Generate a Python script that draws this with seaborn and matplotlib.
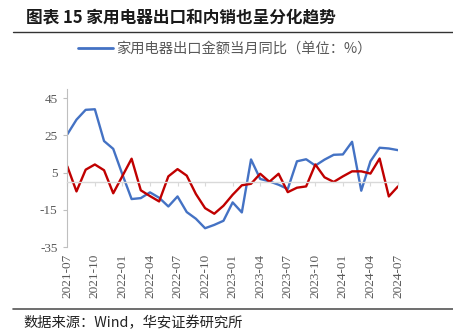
import matplotlib
matplotlib.use("Agg")
import matplotlib.pyplot as plt
from matplotlib.lines import Line2D
import matplotlib.transforms as mtransforms
import numpy as np
import pandas as pd
import seaborn as sns

# Monthly series, 2021-07 .. 2024-07
months = pd.period_range("2021-07", "2024-07", freq="M").strftime("%Y-%m").tolist()
export_yoy = [25.6, 33.5, 38.8, 39.1, 22.0, 17.8, 4.0, -9.2, -8.7, -5.6,
              -8.5, -13.2, -7.8, -16.2, -19.8, -24.9, -23.1, -20.9, -11.0, -16.4,
              12.1, 1.6, 0.3, -1.5, -3.8, 11.1, 12.2, 8.8, 12.0, 14.6,
              14.8, 21.6, -4.7, 11.1, 18.4, 18.0, 17.1]
domestic_yoy = [8.4, -5.1, 6.6, 9.4, 6.3, -6.1, 3.2, 12.5, -4.5, -7.6,
                -10.5, 3.0, 6.9, 3.4, -6.5, -14.1, -17.1, -12.8, -6.9, -1.8,
                -1.0, 4.4, 0.1, 4.4, -5.5, -3.1, -2.4, 9.4, 2.5, 0.0,
                3.0, 5.7, 5.7, 4.5, 12.6, -7.8, -2.4]
legend_label = "家用电器出口金额当月同比（单位：%）"
title_text = "图表 15 家用电器出口和内销也呈分化趋势"
source_text = "数据来源：Wind，华安证券研究所"
yticks = [-35, -15, 5, 25, 45]

df = pd.DataFrame({"idx": np.arange(len(months)), "month": months,
                   "export": export_yoy, "domestic": domestic_yoy})

sns.set_theme(style="white")
plt.rcParams["font.family"] = ["Noto Sans CJK SC", "DejaVu Sans"]

W, H = 453, 332
fig = plt.figure(figsize=(W / 100, H / 100), dpi=100)
ax = fig.add_axes([67.3 / W, (H - 247) / H, (398 - 67.3) / W, (247 - 89) / H])

blue = "#4472C4"
red = "#C00000"
sns.lineplot(data=df, x="idx", y="export", ax=ax, color=blue, linewidth=1.7)
sns.lineplot(data=df, x="idx", y="domestic", ax=ax, color=red, linewidth=1.7)

ax.set_xlim(0, len(months) - 1)
ax.set_ylim(-35, 50)
ax.set_xlabel("")
ax.set_ylabel("")

axis_grey = "#BFBFBF"
label_grey = "#595959"
for s in ("top", "right"):
    ax.spines[s].set_visible(False)
ax.spines["left"].set_color(axis_grey)
ax.spines["left"].set_linewidth(0.8)
ax.spines["bottom"].set_position(("data", 0))
ax.spines["bottom"].set_color("#D9D9D9")
ax.spines["bottom"].set_linewidth(1.0)

ax.set_yticks(yticks)
ax.set_yticklabels([str(v) for v in yticks], family="Liberation Serif",
                   fontsize=9.5, color=label_grey)
ax.tick_params(axis="y", left=True, direction="out", length=3, width=0.8,
               color=axis_grey, pad=4)

xt = list(range(0, len(months), 3))
ax.set_xticks(xt)
ax.tick_params(axis="x", bottom=True, direction="out", length=3, width=0.8,
               color="#D9D9D9", labelbottom=False)
trans = mtransforms.offset_copy(ax.get_xaxis_transform(), fig=fig, x=0, y=-7, units="dots")
for i in xt:
    ax.text(i, 0, months[i], transform=trans, rotation=90, ha="center", va="top",
            family="Liberation Serif", fontsize=9.5, color=label_grey)
ax.grid(False)

# Legend (export series only)
handle = Line2D([], [], color=blue, linewidth=2.0)
fig.legend([handle], [legend_label], loc="center", bbox_to_anchor=(225 / W, 1 - 49 / H),
           frameon=False, handlelength=2.4, handletextpad=0.25,
           prop={"family": ["Noto Sans CJK SC"], "size": 10.3}, labelcolor=label_grey)

# Title, rules and source note
fig.text(26 / W, 1 - 18 / H, title_text, ha="left", va="center",
         fontsize=12, fontweight="bold", color="#1a1a1a")
fig.add_artist(Line2D([13 / W, 1], [1 - 32 / H, 1 - 32 / H], color="#333333", linewidth=1.0))
fig.add_artist(Line2D([13 / W, 1], [1 - 309 / H, 1 - 309 / H], color="#555555", linewidth=1.2))
fig.text(23 / W, 1 - 323 / H, source_text, ha="left", va="center",
         fontsize=10.3, color="#222222")

fig.savefig("out.png", dpi=100)
